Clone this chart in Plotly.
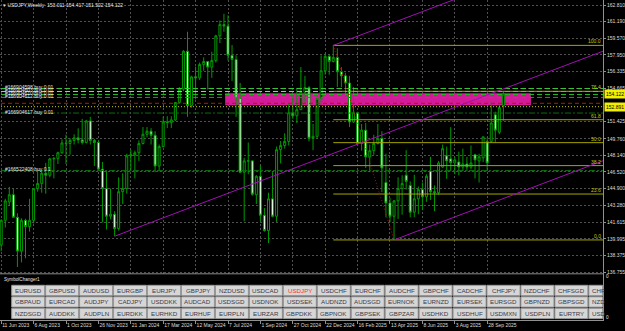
import plotly.graph_objects as go

W, H = 625, 331
PLOT_R = 603      # right edge of chart area (px)
PLOT_B = 320      # bottom of the time axis (px)
FONT = "Liberation Sans, Arial, sans-serif"


def px(x):
    return x / W


def py(y):
    return 1 - y / H


# ---------------- data ----------------
opens = [139.4, 141.8, 143.6, 144.3, 142.1, 138.8, 141.8, 141.2, 141.8, 144.9,
         145.4, 146.4, 146.2, 147.8, 147.85, 148.4, 149.35, 149.3, 149.6, 149.85,
         149.65, 149.4, 151.5, 149.6, 149.4, 146.8, 144.9, 142.2, 142.4, 141.0,
         144.6, 144.9, 148.1, 148.2, 148.4, 149.3, 150.2, 150.5, 150.1, 147.1,
         149.0, 151.4, 151.35, 151.6, 153.3, 154.6, 158.3, 153.0, 155.8, 155.7,
         157.0, 157.3, 156.75, 157.4, 159.8, 160.9, 160.75, 157.9, 157.5, 153.7,
         146.5, 147.6, 147.6, 144.3, 146.1, 142.3, 140.8, 143.9, 142.2, 148.7,
         149.1, 149.5, 152.3, 152.0, 152.6, 154.3, 154.75, 149.8, 150.0, 153.7,
         156.4, 157.8, 157.3, 157.7, 156.3, 155.9, 155.2, 151.4, 152.3, 149.3,
         150.6, 148.0, 148.6, 149.3, 149.8, 145.5, 143.5, 142.2, 143.7, 144.9,
         146.2, 145.2, 142.6, 143.9, 144.8, 144.1, 146.6, 144.6, 144.5, 147.0,
         148.1, 147.8, 147.4, 147.5, 147.0, 147.3, 147.0, 148.2, 147.6, 147.9,
         149.5, 149.5, 152.1, 150.4, 153.011]
highs = [141.9, 143.9, 145.07, 144.9, 142.5, 142.0, 141.95, 143.9, 144.9, 146.6,
         146.6, 147.4, 147.9, 147.95, 148.5, 149.7, 150.16, 149.8, 150.2, 150.78,
         151.7, 151.6, 151.9, 149.75, 149.6, 147.5, 146.6, 144.9, 142.7, 146.0,
         146.4, 148.3, 148.7, 148.6, 149.6, 150.9, 150.9, 150.8, 150.5, 149.2,
         151.9, 151.97, 151.95, 153.3, 154.8, 158.4, 160.2, 155.9, 156.8, 157.2,
         157.7, 157.3, 158.25, 159.9, 161.3, 161.95, 161.8, 158.9, 157.9, 155.2,
         147.9, 149.4, 147.7, 146.2, 147.2, 143.0, 144.5, 146.5, 149.0, 149.55,
         150.3, 153.2, 153.9, 154.7, 156.75, 155.9, 154.9, 151.2, 153.9, 157.9,
         158.1, 158.0, 158.87, 158.6, 156.75, 156.2, 155.9, 154.8, 152.4, 151.2,
         151.3, 149.2, 150.15, 151.2, 150.5, 148.3, 144.0, 143.8, 146.0, 146.2,
         148.65, 145.6, 146.25, 145.1, 145.5, 146.3, 148.0, 145.2, 147.6, 149.2,
         149.0, 150.9, 148.0, 148.5, 148.8, 148.0, 149.1, 148.3, 148.3, 149.95,
         149.9, 153.3, 152.4, 153.2, 154.417]
lows = [138.8, 141.1, 143.2, 142.1, 137.25, 137.7, 138.1, 140.7, 141.5, 144.6,
        144.5, 144.4, 146.0, 145.9, 147.3, 148.3, 147.3, 148.2, 149.2, 149.3,
        149.2, 149.3, 149.2, 147.1, 146.7, 141.6, 140.9, 141.9, 140.25, 140.8,
        143.4, 144.4, 146.6, 145.9, 147.6, 149.2, 149.9, 149.2, 146.5, 146.6,
        148.9, 150.8, 150.8, 151.5, 153.3, 154.4, 151.9, 152.8, 153.6, 155.5,
        156.4, 154.55, 155.7, 157.2, 159.1, 160.2, 157.4, 155.4, 151.9, 146.4,
        141.7, 146.3, 144.2, 143.4, 141.7, 140.7, 139.58, 142.1, 141.65, 147.35,
        148.8, 149.1, 151.7, 151.3, 152.6, 153.3, 149.5, 148.65, 149.8, 153.1,
        156.0, 156.0, 157.2, 154.8, 154.8, 153.7, 150.9, 151.3, 149.3, 148.6,
        146.9, 146.5, 148.2, 149.2, 144.55, 142.1, 141.6, 139.89, 141.95, 142.35,
        144.8, 142.1, 142.1, 142.4, 142.8, 143.6, 143.8, 142.7, 144.3, 146.9,
        145.85, 146.6, 146.3, 146.2, 146.6, 146.6, 146.8, 145.9, 145.5, 147.5,
        146.6, 149.4, 149.4, 150.2, 151.522]
closes = [141.8, 143.7, 144.3, 142.1, 138.8, 141.8, 141.2, 141.8, 144.9, 145.4,
          146.4, 146.2, 147.8, 147.85, 148.4, 149.35, 149.3, 149.6, 149.85, 149.65,
          149.4, 151.5, 149.6, 149.4, 146.8, 144.9, 142.2, 142.4, 141.0, 144.6,
          144.9, 148.1, 148.2, 148.4, 149.3, 150.2, 150.5, 150.1, 147.1, 149.0,
          151.4, 151.35, 151.6, 153.3, 154.6, 158.3, 153.0, 155.8, 155.7, 157.0,
          157.3, 156.75, 157.4, 159.8, 160.9, 160.75, 157.9, 157.5, 153.7, 146.5,
          147.6, 147.6, 144.35, 146.1, 142.3, 140.8, 143.9, 142.2, 148.7, 149.1,
          149.5, 152.3, 152.0, 152.6, 154.3, 154.75, 149.8, 150.0, 153.7, 156.4,
          157.8, 157.3, 157.7, 156.3, 155.9, 155.2, 151.4, 152.3, 149.3, 150.6,
          148.0, 148.6, 149.3, 149.8, 146.9, 143.5, 142.2, 143.7, 144.9, 145.4,
          145.6, 142.6, 143.9, 144.8, 144.1, 146.1, 144.6, 144.5, 147.4, 148.8,
          147.6, 147.45, 147.7, 147.0, 147.3, 147.0, 147.4, 147.7, 148.0, 149.95,
          147.4, 151.3, 150.6, 152.8, 154.122]
bar_index = list(range(len(opens)))

date_tick_bars = [0, 8, 16, 24, 32, 40, 48, 56, 64, 72, 80, 88, 96, 104, 112, 120]
date_tick_labels = ["11 Jun 2023", "6 Aug 2023", "1 Oct 2023", "26 Nov 2023",
                    "21 Jan 2024", "17 Mar 2024", "12 May 2024", "7 Jul 2024",
                    "1 Sep 2024", "27 Oct 2024", "22 Dec 2024", "16 Feb 2025",
                    "13 Apr 2025", "8 Jun 2025", "3 Aug 2025", "28 Sep 2025"]
price_ticks = [162.810, 161.190, 159.570, 157.950, 156.335, 154.665,
               151.425, 149.760, 148.140, 146.520, 144.900, 143.280, 141.615,
               139.995, 138.375, 136.755]
price_labels = ["162.810", "161.190", "159.570", "157.950", "156.335", "154.665",
                "151.425", "149.760", "148.140", "146.520", "144.900",
                "143.280", "141.615", "139.995", "138.375", "136.755"]

title_text = "USDJPY,Weekly  153.011 154.417 151.522 154.122"
bid_price = 154.122
level_price = 152.891

fib_high = (82, 158.870)
fib_low = (97, 139.890)
fib_levels = [0.0, 23.6, 38.2, 50.0, 61.8, 76.4, 100.0]

channel_slope = 0.1497          # yen per week
channel_anchors = [(28, 140.25), (82, 158.87), (97, 139.89)]

zone_bars = (55.3, 130.8)
zone_prices = (153.02, 154.19)

# order / trade lines: price, colour, dash
order_lines = [
    (154.66, "#2fcf2f", "5px,3px"),
    (154.37, "#66ff33", "5px,3px"),
    (154.08, "#22b822", "5px,3px"),
    (153.79, "#1d9a1d", "5px,3px"),
    (153.22, "#c01010", "4px,3px"),
    (152.891, "#c8c800", "1px,2px"),
    (152.27, "#0b6e0b", "6px,2px,2px,2px"),
    (146.66, "#0b6e0b", "6px,2px,2px,2px"),
]
order_labels = [
    (154.78, "#166904598 buy 0.01"),
    (154.49, "#166904603 buy 0.01"),
    (154.20, "#166904610 buy 0.01"),
    (153.91, "#166904612 buy 0.01"),
    (152.40, "#166904617 buy 0.01"),
    (146.80, "#166522408 buy 0.1"),
]

symbol_rows = [
    ["EURUSD", "GBPUSD", "AUDUSD", "EURGBP", "EURJPY", "GBPJPY", "NZDUSD", "USDCAD",
     "USDJPY", "USDCHF", "EURCHF", "AUDCHF", "GBPCHF", "CADCHF", "CHFJPY", "NZDCHF",
     "CHFSGD", "CHF"],
    ["GBPAUD", "EURCAD", "AUDJPY", "CADJPY", "USDDKK", "AUDCAD", "USDSGD", "USDNOK",
     "USDSEK", "AUDNZD", "AUDSGD", "EURNOK", "EURNZD", "EURSEK", "EURSGD", "GBPNZD",
     "GBPSGD", "NZD"],
    ["NZDSGD", "AUDDKK", "AUDPLN", "EURDKK", "EURHKD", "EURHUF", "EURPLN", "EURZAR",
     "GBPDKK", "GBPNOK", "GBPSEK", "GBPZAR", "USDHKD", "USDHUF", "USDMXN", "USDPLN",
     "EURTRY", "USD"],
]
active_symbol = "USDJPY"

# ---------------- figure ----------------
X_MIN, X_MAX = -0.3, 148.6
Y_MIN, Y_MAX = 132.08, 163.298
CANDLE = "#009a00"

fig = go.Figure()
fig.add_trace(go.Candlestick(
    x=bar_index, open=opens, high=highs, low=lows, close=closes,
    increasing=dict(line=dict(color=CANDLE, width=1), fillcolor="#000000"),
    decreasing=dict(line=dict(color=CANDLE, width=1), fillcolor="#eaffea"),
    whiskerwidth=0, hoverinfo="skip", showlegend=False,
))

shapes = []
annotations = []

# zone rectangle (behind candles)
shapes.append(dict(type="rect", xref="x", yref="y", layer="between",
                   x0=zone_bars[0], x1=zone_bars[1], y0=zone_prices[0], y1=zone_prices[1],
                   fillcolor="#d21b98", line=dict(width=0)))

# order lines
for price, col, dash in order_lines:
    shapes.append(dict(type="line", xref="paper", yref="y", layer="above",
                       x0=px(1), x1=px(PLOT_R), y0=price, y1=price,
                       line=dict(color=col, width=1, dash=dash)))

# fibonacci
span = fib_high[1] - fib_low[1]
for lv in fib_levels:
    p = fib_low[1] + span * lv / 100.0
    shapes.append(dict(type="line", xref="x", yref="y", layer="above",
                       x0=fib_high[0], x1=X_MAX, y0=p, y1=p,
                       line=dict(color="#a4a400", width=1)))
    annotations.append(dict(xref="paper", yref="y", x=px(PLOT_R - 1), y=p,
                            xanchor="right", yanchor="bottom", text=f"{lv:.1f}",
                            showarrow=False, borderpad=0,
                            font=dict(family=FONT, size=5, color="#c8c800")))
shapes.append(dict(type="line", xref="x", yref="y", layer="above",
                   x0=fib_high[0], y0=fib_high[1], x1=fib_low[0], y1=fib_low[1],
                   line=dict(color="#c00000", width=1, dash="1px,2px")))

# channel lines
for b0, p0 in channel_anchors:
    shapes.append(dict(type="line", xref="x", yref="y", layer="above",
                       x0=b0, y0=p0, x1=X_MAX + 5, y1=p0 + channel_slope * (X_MAX + 5 - b0),
                       line=dict(color="#a010b4", width=1)))

# order labels
for i, (p, t) in enumerate(order_labels):
    annotations.append(dict(xref="paper", yref="y", x=px(4), y=p, xanchor="left",
                            yanchor="middle", text=t, showarrow=False, borderpad=0,
                            font=dict(family=FONT, size=5, color="#e8e8e8")))

# title
annotations.append(dict(xref="paper", yref="paper", x=px(2), y=py(4.5), xanchor="left",
                        yanchor="middle", text="\u25BE " + title_text, showarrow=False,
                        borderpad=0, font=dict(family=FONT, size=5, color="#e6e6e6")))

# price boxes on the scale
for p in (bid_price, level_price):
    annotations.append(dict(xref="paper", yref="y", x=px(PLOT_R + 1), y=p,
                            xanchor="left", yanchor="middle", text=f"{p:.3f}",
                            showarrow=False, bgcolor="#f0f000", borderpad=1,
                            font=dict(family=FONT, size=5, color="#000000")))

# ---------------- indicator sub-window ----------------
shapes.append(dict(type="rect", xref="paper", yref="paper", layer="above",
                   x0=px(1), x1=px(PLOT_R - 0.5), y0=py(PLOT_B - 0.5), y1=py(274),
                   fillcolor="#000000", line=dict(width=0)))
shapes.append(dict(type="line", xref="paper", yref="paper", layer="above",
                   x0=0, x1=px(PLOT_R), y0=py(273.8), y1=py(273.8),
                   line=dict(color="#8a8a8a", width=1)))
annotations.append(dict(xref="paper", yref="paper", x=px(3), y=py(279), xanchor="left",
                        yanchor="middle", text="SymbolChanger1", showarrow=False,
                        borderpad=0, font=dict(family=FONT, size=4.6, color="#e6e6e6")))
for yy in (276.5, 317):
    annotations.append(dict(xref="paper", yref="paper", x=px(PLOT_R + 2), y=py(yy),
                            xanchor="left", yanchor="middle", text="0", showarrow=False,
                            borderpad=0, font=dict(family=FONT, size=4.6, color="#e6e6e6")))

col_x0, col_step, col_w = 11.7, 33.95, 33.0
row_y0, row_step, row_h = 285.3, 11.5, 10.3
for r, row in enumerate(symbol_rows):
    for c, sym in enumerate(row):
        x0 = col_x0 + c * col_step
        x1 = min(x0 + col_w, PLOT_R - 0.5)
        y0 = row_y0 + r * row_step
        y1 = y0 + row_h
        shapes.append(dict(type="rect", xref="paper", yref="paper", layer="above",
                           x0=px(x0), x1=px(x1), y0=py(y1), y1=py(y0),
                           fillcolor="#d6d6d6", line=dict(color="#9a9a9a", width=1)))
        full = x0 + col_w <= PLOT_R
        annotations.append(dict(
            xref="paper", yref="paper",
            x=px((x0 + x1) / 2) if full else px(x0 + 2.2),
            y=py((y0 + y1) / 2),
            xanchor="center" if full else "left", yanchor="middle",
            text=sym, showarrow=False, borderpad=0,
            font=dict(family=FONT, size=6.2,
                      color="#ff3030" if sym == active_symbol else "#3a3a4a")))

fig.update_layout(
    width=W, height=H, margin=dict(l=0, r=0, t=0, b=0, autoexpand=False),
    paper_bgcolor="#000000", plot_bgcolor="#000000",
    showlegend=False, hovermode=False, dragmode=False,
    shapes=shapes, annotations=annotations,
    xaxis=dict(domain=[0, PLOT_R / W], range=[X_MIN, X_MAX],
               rangeslider=dict(visible=False), automargin=False,
               tickmode="array", tickvals=date_tick_bars, ticktext=date_tick_labels,
               tickangle=0, ticklabelposition="outside right",
               tickfont=dict(family=FONT, size=5, color="#dcdcdc"),
               ticks="outside", ticklen=3, tickcolor="#909090",
               showgrid=True, gridcolor="#505050", griddash="2px,2px", gridwidth=1,
               showline=True, linecolor="#909090", linewidth=1, mirror=True,
               zeroline=False, fixedrange=True),
    yaxis=dict(domain=[(H - PLOT_B) / H, 1], range=[Y_MIN, Y_MAX], side="right",
               automargin=False,
               tickmode="array", tickvals=price_ticks, ticktext=price_labels,
               tickfont=dict(family=FONT, size=5, color="#dcdcdc"),
               ticks="outside", ticklen=2, tickcolor="#909090",
               showgrid=True, gridcolor="#505050", griddash="2px,2px", gridwidth=1,
               showline=True, linecolor="#909090", linewidth=1, mirror=True,
               zeroline=False, fixedrange=True),
)

fig.write_html("out.html", config={"displayModeBar": False})
